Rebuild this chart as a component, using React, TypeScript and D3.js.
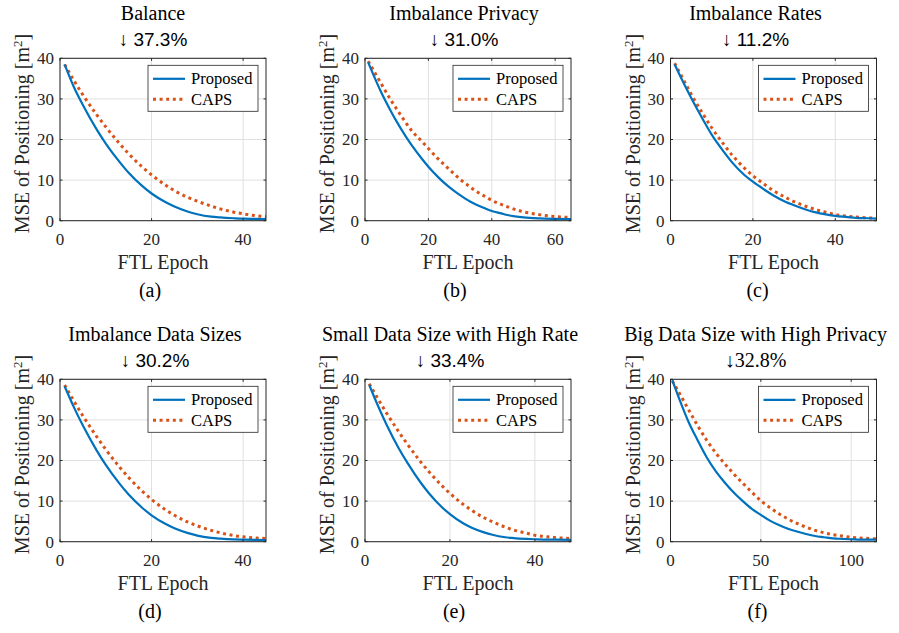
import React, { useRef, useEffect } from 'react'
import * as d3 from 'd3'

// panel order: (a) (b) (c) / (d) (e) (f)
const panelTitles = [
  'Balance',
  'Imbalance Privacy',
  'Imbalance Rates',
  'Imbalance Data Sizes',
  'Small Data Size with High Rate',
  'Big Data Size with High Privacy',
]
const reductions = ['↓ 37.3%', '↓ 31.0%', '↓ 11.2%', '↓ 30.2%', '↓ 33.4%', '↓32.8%']
const subLabels = ['(a)', '(b)', '(c)', '(d)', '(e)', '(f)']
const seriesNames = ['Proposed', 'CAPS']
const xMax = [45, 65, 50, 45, 48.5, 114]
const xTicks = [
  [0, 20, 40],
  [0, 20, 40, 60],
  [0, 20, 40],
  [0, 20, 40],
  [0, 20, 40],
  [0, 50, 100],
]
const yTicks = [0, 10, 20, 30, 40]

// (a) Balance
const balanceEpochs = [1, 3, 5, 8, 10, 13, 15, 18, 20, 23, 25, 28, 30, 33, 35, 38, 40, 43, 45]
const balanceProposed = [38.5, 33, 28.5, 22.5, 19, 14.5, 11.8, 8.5, 6.7, 4.6, 3.5, 2.2, 1.6, 1.0, 0.8, 0.6, 0.5, 0.45, 0.4]
const balanceCaps = [38.5, 34.6, 31.0, 26.1, 23.1, 19.0, 16.5, 13.2, 11.3, 8.8, 7.4, 5.7, 4.8, 3.6, 2.9, 2.1, 1.7, 1.2, 1.0]

// (b) Imbalance Privacy
const privacyEpochs = [1, 3, 5, 8, 10, 13, 15, 18, 20, 23, 25, 28, 30, 33, 35, 38, 40, 43, 45, 50, 55, 60, 65]
const privacyProposed = [39, 35.3, 31.8, 27.2, 24.4, 20.6, 18.3, 15.2, 13.3, 10.8, 9.3, 7.4, 6.3, 4.8, 4.0, 3.0, 2.4, 1.8, 1.4, 0.8, 0.55, 0.45, 0.4]
const privacyCaps = [39.3, 36.6, 33.9, 29.9, 27.5, 24.0, 21.9, 19.5, 17.8, 15.3, 13.8, 11.6, 10.2, 8.4, 7.3, 5.9, 5.0, 4.0, 3.4, 2.2, 1.5, 1.0, 0.8]

// (c) Imbalance Rates
const ratesEpochs = [1, 3, 5, 8, 10, 13, 15, 18, 20, 23, 25, 28, 30, 33, 35, 38, 40, 43, 45, 48, 50]
const ratesProposed = [38.5, 34.3, 30.3, 24.7, 21.2, 16.9, 14.3, 11.2, 9.6, 7.5, 6.2, 4.6, 3.8, 2.7, 2.1, 1.5, 1.2, 0.9, 0.7, 0.6, 0.5]
const ratesCaps = [38.8, 35, 31.2, 26.1, 22.9, 18.7, 16.1, 12.9, 11.1, 8.8, 7.4, 5.7, 4.7, 3.5, 2.8, 2.0, 1.5, 1.1, 0.9, 0.7, 0.6]

// (d) Imbalance Data Sizes
const sizesEpochs = [1, 3, 5, 8, 10, 13, 15, 18, 20, 23, 25, 28, 30, 33, 35, 38, 40, 43, 45]
const sizesProposed = [38.3, 33.2, 28.6, 22.5, 18.9, 14.3, 11.6, 8.3, 6.5, 4.4, 3.3, 2.1, 1.5, 0.95, 0.75, 0.55, 0.5, 0.45, 0.4]
const sizesCaps = [38.6, 34.7, 31.0, 25.9, 22.7, 18.4, 15.8, 12.4, 10.4, 7.9, 6.5, 4.8, 3.9, 2.8, 2.2, 1.5, 1.2, 0.9, 0.8]

// (e) Small Data Size with High Rate
const smallEpochs = [1, 3, 5, 8, 10, 13, 15, 18, 20, 23, 25, 28, 30, 33, 35, 38, 40, 43, 45, 48.5]
const smallProposed = [38.6, 33.6, 29.0, 22.9, 19.4, 14.7, 12.0, 8.6, 6.8, 4.6, 3.5, 2.3, 1.7, 1.1, 0.9, 0.7, 0.6, 0.5, 0.5, 0.45]
const smallCaps = [38.9, 35.3, 31.8, 27.0, 24.0, 19.8, 17.3, 13.9, 11.9, 9.3, 7.8, 5.9, 4.9, 3.6, 2.9, 2.1, 1.6, 1.2, 1.0, 0.8]

// (f) Big Data Size with High Privacy
const bigEpochs = [1, 5, 10, 15, 20, 25, 30, 35, 40, 45, 50, 55, 60, 65, 70, 75, 80, 85, 90, 95, 100, 105, 110, 114]
const bigProposed = [39.8, 35, 29.5, 25, 20.8, 17.4, 14.6, 12.1, 10, 8.1, 6.6, 5.2, 4.1, 3.2, 2.5, 1.9, 1.4, 1.1, 0.8, 0.7, 0.6, 0.5, 0.5, 0.5]
const bigCaps = [39.6, 36.5, 32.5, 28.6, 25, 21.9, 19.2, 16.7, 14.4, 12.2, 10.1, 8.4, 6.9, 5.6, 4.5, 3.6, 2.8, 2.2, 1.7, 1.4, 1.1, 0.9, 0.8, 0.7]

const panelEpochs = [balanceEpochs, privacyEpochs, ratesEpochs, sizesEpochs, smallEpochs, bigEpochs]
const panelProposed = [balanceProposed, privacyProposed, ratesProposed, sizesProposed, smallProposed, bigProposed]
const panelCaps = [balanceCaps, privacyCaps, ratesCaps, sizesCaps, smallCaps, bigCaps]

export default function App() {
  const svgRef = useRef<SVGSVGElement | null>(null)

  useEffect(() => {
    const width = 899
    const height = 633
    const colLeft = [60, 365, 670.5]
    const rowTop = [58.3, 379.3]
    const plotW = 206
    const plotH = 162.4
    // caption centres sit a bit left of the plot centre in the original
    const titleShift = [-10, -4, -18, -8, -18, -18]
    const subShift = [-13, -13, -16, -13, -14, -16]

    const serif = '"Liberation Serif", "Times New Roman", serif'
    const sans = '"Liberation Sans", Arial, sans-serif'
    const ink = '#262626'
    const blue = '#0072BD'
    const orange = '#D95319'

    const svg = d3.select(svgRef.current)
    svg.selectAll('*').remove()
    svg.attr('width', width).attr('height', height)
    svg.append('rect').attr('width', width).attr('height', height).attr('fill', '#fff')

    panelTitles.forEach((title, i) => {
      const col = i % 3
      const row = Math.floor(i / 3)
      const g = svg.append('g').attr('transform', `translate(${colLeft[col]},${rowTop[row]})`)

      const x = d3.scaleLinear().domain([0, xMax[i]]).range([0, plotW])
      const y = d3.scaleLinear().domain([0, 40]).range([plotH, 0])

      // grid
      g.selectAll('.gx').data(xTicks[i]).join('line')
        .attr('x1', d => x(d)).attr('x2', d => x(d))
        .attr('y1', 0).attr('y2', plotH)
        .attr('stroke', '#e0e0e0').attr('stroke-width', 1)
      g.selectAll('.gy').data(yTicks).join('line')
        .attr('y1', d => y(d)).attr('y2', d => y(d))
        .attr('x1', 0).attr('x2', plotW)
        .attr('stroke', '#e0e0e0').attr('stroke-width', 1)

      // curves
      const clipId = `clip-${i}`
      g.append('clipPath').attr('id', clipId)
        .append('rect').attr('width', plotW).attr('height', plotH)

      const line = d3.line<[number, number]>()
        .x(d => x(d[0]))
        .y(d => y(d[1]))
        .curve(d3.curveMonotoneX)

      const epochs = panelEpochs[i]
      const proposed = epochs.map((e, k) => [e, panelProposed[i][k]] as [number, number])
      const caps = epochs.map((e, k) => [e, panelCaps[i][k]] as [number, number])

      g.append('path')
        .attr('clip-path', `url(#${clipId})`)
        .attr('d', line(caps))
        .attr('fill', 'none')
        .attr('stroke', orange)
        .attr('stroke-width', 3)
        .attr('stroke-dasharray', '3 3.6')
      g.append('path')
        .attr('clip-path', `url(#${clipId})`)
        .attr('d', line(proposed))
        .attr('fill', 'none')
        .attr('stroke', blue)
        .attr('stroke-width', 2.2)

      // box
      g.append('rect')
        .attr('width', plotW).attr('height', plotH)
        .attr('fill', 'none').attr('stroke', ink).attr('stroke-width', 1)

      // inward ticks on all four sides
      const tk = 2.5
      xTicks[i].forEach(t => {
        g.append('line').attr('x1', x(t)).attr('x2', x(t)).attr('y1', plotH).attr('y2', plotH - tk).attr('stroke', ink)
        g.append('line').attr('x1', x(t)).attr('x2', x(t)).attr('y1', 0).attr('y2', tk).attr('stroke', ink)
      })
      yTicks.forEach(t => {
        g.append('line').attr('x1', 0).attr('x2', tk).attr('y1', y(t)).attr('y2', y(t)).attr('stroke', ink)
        g.append('line').attr('x1', plotW).attr('x2', plotW - tk).attr('y1', y(t)).attr('y2', y(t)).attr('stroke', ink)
      })

      // tick labels
      g.selectAll('.xt').data(xTicks[i]).join('text')
        .attr('x', d => x(d)).attr('y', plotH + 24)
        .attr('text-anchor', 'middle')
        .style('font-family', serif).style('font-size', '17px')
        .attr('fill', ink)
        .text(d => d)
      g.selectAll('.yt').data(yTicks).join('text')
        .attr('x', -6).attr('y', d => y(d) + 6)
        .attr('text-anchor', 'end')
        .style('font-family', serif).style('font-size', '17px')
        .attr('fill', ink)
        .text(d => d)

      // axis labels
      g.append('text')
        .attr('x', plotW / 2).attr('y', plotH + 48)
        .attr('text-anchor', 'middle')
        .style('font-family', serif).style('font-size', '20px')
        .attr('fill', ink)
        .text('FTL Epoch')

      const yl = g.append('text')
        .attr('transform', `translate(-31,${plotH / 2 - 6}) rotate(-90)`)
        .attr('text-anchor', 'middle')
        .style('font-family', serif).style('font-size', '20px')
        .attr('fill', ink)
      yl.append('tspan').text('MSE of Positioning [m')
      yl.append('tspan').attr('dy', -7).style('font-size', '13px').text('2')
      yl.append('tspan').attr('dy', 7).text(']')

      // titles
      const cx = plotW / 2 + titleShift[i]
      g.append('text')
        .attr('x', cx).attr('y', -38)
        .attr('text-anchor', 'middle')
        .style('font-family', serif).style('font-size', '20px')
        .attr('fill', '#000')
        .text(title)
      g.append('text')
        .attr('x', cx).attr('y', -12.5)
        .attr('text-anchor', 'middle')
        .style('font-family', i === 5 ? serif : sans).style('font-size', i === 5 ? '20px' : '19px')
        .attr('fill', '#000')
        .text(reductions[i])

      // sub label
      g.append('text')
        .attr('x', plotW / 2 + subShift[i]).attr('y', plotH + 76.5)
        .attr('text-anchor', 'middle')
        .style('font-family', serif).style('font-size', '20px')
        .attr('fill', '#000')
        .text(subLabels[i])

      // legend
      const lg = g.append('g').attr('transform', `translate(${plotW - 118},7)`)
      lg.append('rect')
        .attr('width', 110).attr('height', 46)
        .attr('fill', '#fff').attr('stroke', ink).attr('stroke-width', 0.8)
      seriesNames.forEach((name, k) => {
        const ly = 13.5 + k * 20.5
        lg.append('line')
          .attr('x1', 5).attr('x2', 37).attr('y1', ly).attr('y2', ly)
          .attr('stroke', k === 0 ? blue : orange)
          .attr('stroke-width', k === 0 ? 2.2 : 3)
          .attr('stroke-dasharray', k === 0 ? null : '3 3.6')
        lg.append('text')
          .attr('x', 43).attr('y', ly + 5.5)
          .style('font-family', serif).style('font-size', '16.5px')
          .attr('fill', '#000')
          .text(name)
      })
    })
  }, [])

  return (
    <svg ref={svgRef} style={{ position: 'absolute', left: 0, top: 0 }} />
  )
}
